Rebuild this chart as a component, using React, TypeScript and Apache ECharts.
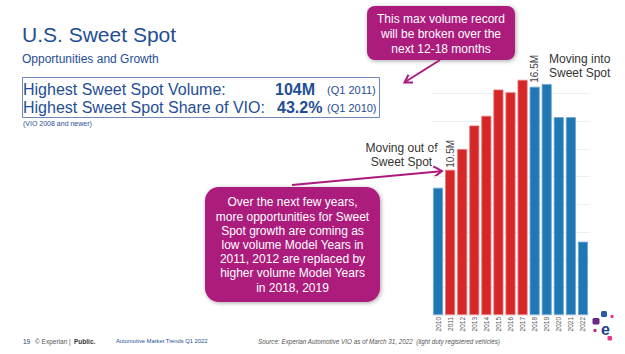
import React, { useEffect, useRef } from "react";
import * as echarts from "echarts";

const years = ["2010", "2011", "2012", "2013", "2014", "2015", "2016", "2017", "2018", "2019", "2020", "2021", "2022"];
const volumes = [9.2, 10.5, 12.0, 13.7, 14.4, 16.3, 16.1, 17.0, 16.5, 16.7, 14.3, 14.3, 5.3];
const sweetSpotYears = ["2011", "2012", "2013", "2014", "2015", "2016", "2017"];
const labelledYears = ["2011", "2018"];
const labelTexts = ["10.5M", "16.5M"];
const yTicks = [0, 2, 4, 6, 8, 10, 12, 14, 16, 18];

const RED = "#d62728";
const BLUE = "#1f77b4";
const MAGENTA = "#ac1a7d";
const NAVY = "#1f4e96";
const FONT = "Liberation Sans, Arial, sans-serif";

export default function App() {
  const ref = useRef<HTMLDivElement>(null);
  useEffect(() => {
    if (!ref.current) return;
    const chart = echarts.init(ref.current, null, { renderer: "svg" });

    const data = years.map((y, i) => {
      const li = labelledYears.indexOf(y);
      const isSweet = sweetSpotYears.includes(y);
      return {
        value: volumes[i],
        itemStyle: {
          color: isSweet ? RED : BLUE,
          borderColor: isSweet ? "#e8797a" : "#6fa6d2",
          borderWidth: 0.8,
        },
        label:
          li >= 0
            ? {
                show: true,
                formatter: labelTexts[li],
                position: "top",
                rotate: 90,
                align: "left",
                verticalAlign: "middle",
                distance: li === 0 ? 2 : 4,
                fontSize: 10,
                color: "#444",
                fontFamily: FONT,
              }
            : { show: false },
      };
    });

    const t = (x: number, y: number, text: string, style: any = {}) => ({
      type: "text",
      x,
      y,
      style: {
        text,
        fontFamily: FONT,
        fontSize: 12,
        fill: "#333",
        verticalAlign: "middle",
        align: "left",
        ...style,
      },
    });

    const option: any = {
      animation: false,
      backgroundColor: "#ffffff",
      grid: { left: 432, width: 157, top: 66, bottom: 39, containLabel: false },
      xAxis: {
        type: "category",
        data: years,
        axisLine: { show: false },
        axisTick: { show: false },
        axisLabel: {
          interval: 0,
          rotate: 90,
          fontSize: 6.5,
          color: "#555",
          margin: 2,
          fontFamily: FONT,
        },
      },
      yAxis: {
        type: "value",
        min: yTicks[0],
        max: yTicks[yTicks.length - 1],
        interval: 2,
        axisLine: { show: false },
        axisTick: { show: false },
        axisLabel: { show: false },
        splitLine: { show: true, showMaxLine: false, lineStyle: { color: "#eeeeee", width: 1 } },
      },
      series: [
        {
          type: "bar",
          data,
          barCategoryGap: "17%",
        },
      ],
      graphic: [
        // Title block
        t(22, 34, "U.S. Sweet Spot", { fontSize: 21, fill: NAVY }),
        t(22, 59, "Opportunities and Growth", { fontSize: 12, fill: NAVY }),
        {
          type: "rect",
          shape: { x: 22.5, y: 77.5, width: 357, height: 40 },
          style: { fill: "none", stroke: "#7189b8", lineWidth: 1 },
        },
        t(23, 89.5, "Highest Sweet Spot Volume:", { fontSize: 16, fill: NAVY }),
        t(275, 89.5, "104M", { fontSize: 16, fill: NAVY, fontWeight: "bold" }),
        t(327, 90, "(Q1 2011)", { fontSize: 11, fill: NAVY }),
        t(23, 107.5, "Highest Sweet Spot Share of VIO:", { fontSize: 16, fill: NAVY }),
        t(277, 107.5, "43.2%", { fontSize: 16, fill: NAVY, fontWeight: "bold" }),
        t(327, 108, "(Q1 2010)", { fontSize: 11, fill: NAVY }),
        t(23, 123.5, "(VIO 2008 and newer)", { fontSize: 7, fill: NAVY }),

        // Top callout
        {
          type: "rect",
          shape: { x: 367, y: 6, width: 148, height: 54, r: 8 },
          style: {
            fill: MAGENTA,
            shadowBlur: 4,
            shadowColor: "rgba(0,0,0,0.35)",
            shadowOffsetX: 1,
            shadowOffsetY: 1,
          },
        },
        t(441, 34, "This max volume record\nwill be broken over the\nnext 12-18 months", {
          fill: "#ffffff",
          align: "center",
          lineHeight: 15,
        }),
        {
          type: "line",
          shape: { x1: 440, y1: 60, x2: 405, y2: 82 },
          style: { stroke: MAGENTA, lineWidth: 2 },
        },
        {
          type: "polyline",
          shape: { points: [[413, 82.5], [404.5, 82.5], [408.5, 74.8]] },
          style: { stroke: MAGENTA, lineWidth: 2, fill: "none" },
        },

        // Right annotations
        t(549, 66, "Moving into\nSweet Spot", { lineHeight: 14, fill: "#333" }),
        t(401.5, 155, "Moving out of\nSweet Spot", { lineHeight: 14, align: "center", fill: "#333" }),

        // Bottom-left callout
        {
          type: "rect",
          shape: { x: 205, y: 187, width: 175, height: 115, r: 14 },
          style: {
            fill: MAGENTA,
            shadowBlur: 4,
            shadowColor: "rgba(0,0,0,0.35)",
            shadowOffsetX: 1,
            shadowOffsetY: 1,
          },
        },
        t(
          292.5,
          245,
          "Over the next few years,\nmore opportunities for Sweet\nSpot growth are coming as\nlow volume Model Years in\n2011, 2012 are replaced by\nhigher volume Model Years\nin 2018, 2019",
          { fill: "#ffffff", align: "center", lineHeight: 14.2 }
        ),
        {
          type: "line",
          shape: { x1: 292, y1: 185, x2: 441, y2: 171.2 },
          style: { stroke: MAGENTA, lineWidth: 2 },
        },
        {
          type: "polyline",
          shape: { points: [[434.2, 177], [442, 171.1], [433.4, 166.3]] },
          style: { stroke: MAGENTA, lineWidth: 2, fill: "none" },
        },

        // Footer
        t(23, 341, "19", { fontSize: 6.5, fill: "#1f3a6b" }),
        t(35, 341, "© Experian | ", { fontSize: 6.5, fill: "#555" }),
        t(74, 341, "Public.", { fontSize: 6.5, fill: "#333", fontWeight: "bold" }),
        t(116, 341, "Automotive Market Trends Q1 2022", { fontSize: 5.8, fill: NAVY }),
        t(
          258,
          341,
          "Source: Experian Automotive VIO as of March 31, 2022  (light duty registered vehicles)",
          { fontSize: 6.3, fill: "#555", fontStyle: "italic" }
        ),

        // Logo
        { type: "rect", shape: { x: 601, y: 311, width: 6, height: 6, r: 1.5 }, style: { fill: "#2b5aa6" } },
        { type: "rect", shape: { x: 610.5, y: 315, width: 3, height: 3, r: 0.8 }, style: { fill: "#e8358a" } },
        { type: "rect", shape: { x: 592.5, y: 318, width: 7, height: 6.5, r: 1.5 }, style: { fill: "#6a2784" } },
        { type: "rect", shape: { x: 593.5, y: 329, width: 3, height: 3, r: 0.8 }, style: { fill: "#b8237f" } },
        { type: "rect", shape: { x: 607.5, y: 336, width: 4.5, height: 4.5, r: 1 }, style: { fill: "#e8358a" } },
        t(605.5, 329, "e", { fontSize: 16, fill: "#1d3f87", fontWeight: "bold", align: "center" }),
      ],
    };

    chart.setOption(option);
    return () => chart.dispose();
  }, []);

  return (
    <div
      ref={ref}
      style={{ position: "fixed", left: 0, top: 0, width: 625, height: 354, background: "#fff" }}
    />
  );
}
